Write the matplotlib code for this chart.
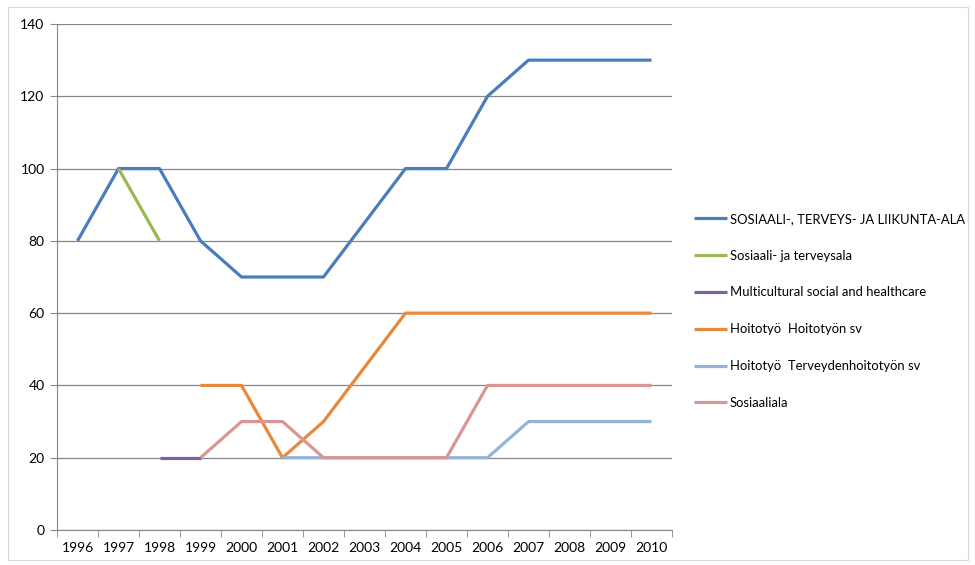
import numpy as np
import matplotlib
matplotlib.use("Agg")
import matplotlib.pyplot as plt
import matplotlib.patches as mpatches

nan = np.nan
years = [str(y) for y in range(1996, 2011)]
labels = ["SOSIAALI-, TERVEYS- JA LIIKUNTA-ALA", "Sosiaali- ja terveysala",
          "Multicultural social and healthcare", "Hoitotyö  Hoitotyön sv",
          "Hoitotyö  Terveydenhoitotyön sv", "Sosiaaliala"]
sote = [80, 100, 100, 80, 70, 70, 70, 85, 100, 100, 120, 130, 130, 130, 130]
soter = [nan, 100, 80, nan, nan, nan, nan, nan, nan, nan, nan, nan, nan, nan, nan]
multi = [nan, nan, 20, 20, nan, nan, nan, nan, nan, nan, nan, nan, nan, nan, nan]
hoito = [nan, nan, nan, 40, 40, 20, 30, 45, 60, 60, 60, 60, 60, 60, 60]
terv = [nan, nan, nan, nan, nan, 20, 20, 20, 20, 20, 20, 30, 30, 30, 30]
sosiaali = [nan, nan, nan, 20, 30, 30, 20, 20, 20, 20, 40, 40, 40, 40, 40]
series = [sote, soter, multi, hoito, terv, sosiaali]
colors = ['#4A7EBB', '#98B954', '#7D60A0', '#E8883A', '#95B3D7', '#D99694']

plt.rcParams['font.family'] = ['Lato', 'DejaVu Sans']

fig = plt.figure(figsize=(9.75, 5.65), dpi=100)
ax = fig.add_axes([57/975, 35/565, 615/975, 506/565])

x = np.arange(len(years))
for vals, lab, col in zip(series, labels, colors):
    ax.plot(x, vals, color=col, lw=2.3, label=lab, solid_capstyle='butt')

ax.set_xlim(-0.5, len(years) - 0.5)
ax.set_ylim(0, 140)
ax.set_yticks(range(0, 141, 20))
ax.set_xticks(x)
ax.set_xticklabels(years)
ax.set_xticks(np.arange(-0.5, len(years), 1), minor=True)
ax.tick_params(axis='x', which='major', length=0, pad=9, labelsize=10)
ax.tick_params(axis='x', which='minor', length=5, color='#868686')
ax.tick_params(axis='y', length=5, color='#868686', labelsize=10, pad=4)
ax.grid(axis='y', color='#868686', lw=0.9)
ax.set_axisbelow(True)
for s in ['top', 'right']:
    ax.spines[s].set_visible(False)
for s in ['left', 'bottom']:
    ax.spines[s].set_color('#868686')

ax.legend(loc='center left', bbox_to_anchor=(1.028, 0.433), frameon=False,
          fontsize=9.4, handlelength=2.5, handletextpad=0.2, labelspacing=1.9,
          borderaxespad=0)

fig.patches.append(mpatches.Rectangle((8/975, 5/565), 960/975, 553/565,
                                      transform=fig.transFigure, fill=False,
                                      edgecolor='#D9D9D9', lw=0.8))

fig.savefig('out.png', dpi=100)
